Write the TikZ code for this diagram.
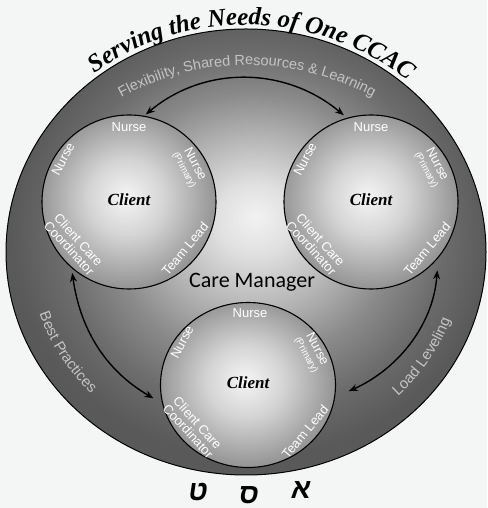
\documentclass[tikz,border=0pt]{standalone}
\usepackage{fontspec}
\setmainfont{Liberation Sans}
\newfontfamily\titlefont{Liberation Serif}
\newfontfamily\managerfont{Carlito}
\newfontfamily\hebfont[Script=Hebrew,FakeSlant=0.15]{Liberation Sans}
\newcommand\primarysize{\fontsize{9.5}{9.5}\selectfont}
\usetikzlibrary{arrows.meta,decorations.text,shapes.geometric}
\definecolor{paper}{HTML}{F4F6F5}
\definecolor{bandtext}{HTML}{C4C4C4}
\definecolor{glowA}{HTML}{F2F2F2}
\definecolor{glowB}{HTML}{E0E0E0}
\definecolor{glowC}{HTML}{B2B2B2}
\definecolor{glowD}{HTML}{8A8A8A}
\definecolor{glowE}{HTML}{6C6C6C}
\definecolor{glowF}{HTML}{595959}
\definecolor{discin}{HTML}{F5F5F5}
\definecolor{discout}{HTML}{969696}
\pgfdeclareradialshading{bandglow}{\pgfpoint{1bp}{4bp}}{color(0bp)=(glowA); color(4bp)=(glowB); color(10bp)=(glowC); color(15bp)=(glowD); color(20bp)=(glowE); color(25bp)=(glowF); color(50bp)=(glowF)}
\pgfdeclareradialshading{discglow}{\pgfpoint{-1bp}{1.5bp}}{color(0bp)=(discin); color(11bp)=(discin!65!discout); color(25bp)=(discout); color(50bp)=(discout)}
\begin{document}
\begin{tikzpicture}[x=1pt,y=1pt,
  disc/.style={circle, draw=black, line width=1.1pt, shading=discglow, inner sep=0pt, minimum size=174pt},
  role/.style={text=white, font=\fontsize{13}{12.5}\selectfont, align=center, inner sep=0pt},
  clientname/.style={font=\titlefont\bfseries\itshape\fontsize{17}{17}\selectfont},
  hebrew/.style={font=\hebfont\bfseries\fontsize{28}{28}\selectfont},
  flow/.style={{Stealth[length=9pt,width=7pt]}-{Stealth[length=9pt,width=7pt]}, line width=1.4pt},
  bandlabel/.style={decorate, decoration={text along path, text align=center, text color=bandtext}}]
\fill[paper] (0,0) rectangle (487,508);
\useasboundingbox (0,0) rectangle (487,508);
\node[ellipse, draw=black, line width=1pt, shading=bandglow, inner sep=0pt, minimum width=480pt, minimum height=446pt] (band) at (246,256) {};
\path[decorate, decoration={text along path, text align=center, text={|\titlefont\bfseries\itshape\fontsize{25}{25}\selectfont|Serving the Needs of One CCAC}}] (246,256) ++(129:246 and 227) arc[start angle=129, end angle=48, x radius=246, y radius=227];
\path[bandlabel, decoration={text={|\fontsize{14.5}{14.5}\selectfont|Flexibility, Shared Resources {\&} Learning}}] (247,183) ++(124:260) arc[start angle=124, end angle=56, radius=260];
\path[bandlabel, decoration={text={|\fontsize{15}{15}\selectfont|Best Practices}}] (246,256) ++(190:217 and 202) arc[start angle=190, end angle=232, x radius=217, y radius=202];
\path[bandlabel, decoration={text={|\fontsize{15}{15}\selectfont|Load Leveling}}] (246,256) ++(310:217 and 202) arc[start angle=310, end angle=345, x radius=217, y radius=202];
\node[font=\managerfont\fontsize{22}{22}\selectfont] (manager) at (252,226) {Care Manager};
\node[disc] (clientL) at (129,306) {};
\node[disc] (clientR) at (371,306) {};
\node[disc, ellipse, minimum width=175pt, minimum height=165pt] (clientB) at (248,123) {};
\node[clientname] (nameL) at (129,308) {Client};
\node[role] (nurseTopL) at (129,381) {Nurse};
\node[role, rotate=62] (nurseSideL) at (63,349) {Nurse};
\node[role, rotate=-62] (primaryL) at (190,341) {Nurse\\[-1pt]{\primarysize (Primary)}};
\node[role, rotate=-48] (coordL) at (74,264) {Client Care\\Coordinator};
\node[role, rotate=50] (leadL) at (185,259) {Team Lead};
\node[clientname] (nameR) at (371,308) {Client};
\node[role] (nurseTopR) at (371,381) {Nurse};
\node[role, rotate=62] (nurseSideR) at (305,349) {Nurse};
\node[role, rotate=-62] (primaryR) at (432,341) {Nurse\\[-1pt]{\primarysize (Primary)}};
\node[role, rotate=-48] (coordR) at (316,264) {Client Care\\Coordinator};
\node[role, rotate=50] (leadR) at (427,259) {Team Lead};
\node[clientname] (nameB) at (248,125) {Client};
\node[role] (nurseTopB) at (250,195) {Nurse};
\node[role, rotate=62] (nurseSideB) at (182,166) {Nurse};
\node[role, rotate=-62] (primaryB) at (312,156) {Nurse\\[-1pt]{\primarysize (Primary)}};
\node[role, rotate=-48] (coordB) at (193,81) {Client Care\\Coordinator};
\node[role, rotate=50] (leadB) at (305,76) {Team Lead};
\draw[flow, shorten <=2pt, shorten >=4pt] (clientL.80) to[out=40,in=140] (clientR.106);
\draw[flow, shorten <=5pt, shorten >=10pt] (clientL.229) to[out=-82,in=150] (clientB.192);
\draw[flow, shorten <=12pt, shorten >=15pt] (clientR.-40) to[out=-94,in=24] (clientB.-8);
\node[hebrew] (letterTet) at (197,16) {ט};
\node[hebrew] (letterSamekh) at (248,13) {ס};
\node[hebrew] (letterAlef) at (300,18) {א};
\end{tikzpicture}
\end{document}
